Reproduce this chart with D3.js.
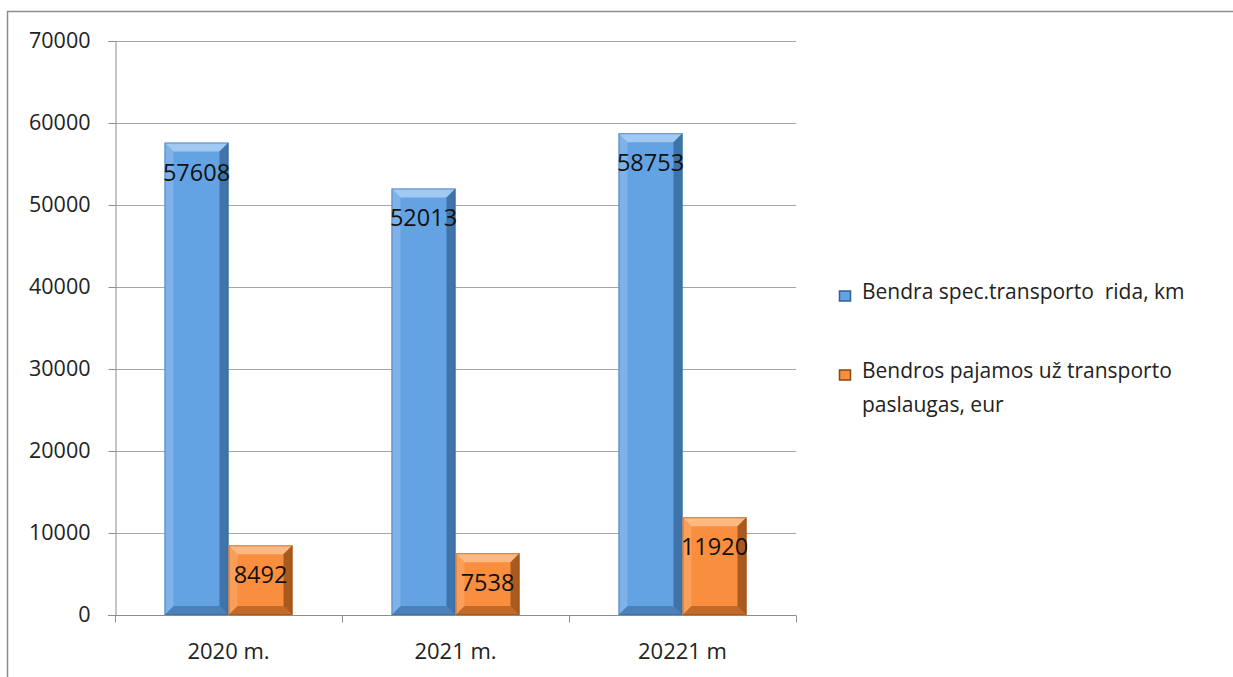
<!DOCTYPE html>
<html>
<head>
<meta charset="utf-8">
<script src="https://cdn.jsdelivr.net/npm/d3@7"></script>
<style>
  body { margin: 0; background: #fff; }
  text { font-family: "Open Sans", "Noto Sans", sans-serif; }
</style>
</head>
<body>
<script>
var width = 1233;
var height = 677;

var margin = {top: 41, left: 115, right: 437, bottom: 62};

var categories = ["2020 m.", "2021 m.", "20221 m"];
var seriesNames = ["Bendra spec.transporto  rida, km", "Bendros pajamos už transporto paslaugas, eur"];
var ridaValues = [57608, 52013, 58753];
var pajamosValues = [8492, 7538, 11920];
var yTicks = [0, 10000, 20000, 30000, 40000, 50000, 60000, 70000];

var colors = ["#64a3e3", "#f98e3e"];
var light = ["#acd0f5", "#fdc18e"];
var dark = ["#2f5f92", "#8a4513"];

var svg = d3.select("body")
  .append("svg")
  .attr("width", width)
  .attr("height", height);

// outer frame
svg.append("rect")
  .attr("x", 7.5).attr("y", 11.5)
  .attr("width", width + 10).attr("height", height + 10)
  .attr("fill", "none")
  .attr("stroke", "#8c8c8c")
  .attr("stroke-width", 1.5);

var xScale = d3.scaleBand()
  .domain(categories)
  .range([margin.left, width - margin.right])
  .paddingInner(0.436)
  .paddingOuter(0.218);

var xSub = d3.scaleBand()
  .domain([0, 1])
  .range([0, xScale.bandwidth()]);

var yScale = d3.scaleLinear()
  .domain([0, 70000])
  .range([height - margin.bottom, margin.top]);

// gridlines
svg.append("g")
  .selectAll("line")
  .data(yTicks.slice(1))
  .enter()
  .append("line")
  .attr("x1", margin.left)
  .attr("x2", width - margin.right)
  .attr("y1", function(d) { return Math.round(yScale(d)) + 0.5; })
  .attr("y2", function(d) { return Math.round(yScale(d)) + 0.5; })
  .attr("stroke", "#a6a6a6")
  .attr("stroke-width", 1);

var yAxis = svg.append("g")
  .attr("transform", "translate(" + (margin.left + 0.5) + ",0)")
  .call(d3.axisLeft(yScale).tickValues(yTicks).tickSize(7).tickPadding(18).tickFormat(d3.format("d")));

yAxis.select(".domain").attr("stroke", "#8c8c8c");
yAxis.selectAll(".tick line").attr("stroke", "#8c8c8c");
yAxis.selectAll(".tick text")
  .attr("font-size", 21.5)
  .attr("fill", "#222")
  .attr("font-family", "'Open Sans', sans-serif");

var xAxis = svg.append("g")
  .attr("transform", "translate(0," + (yScale(0) + 0.5) + ")");

xAxis.append("line")
  .attr("x1", margin.left - 7)
  .attr("x2", width - margin.right)
  .attr("stroke", "#8c8c8c");

var step = xScale.step();
var boundaries = d3.range(categories.length + 1).map(function(i) { return margin.left + i * step; });
xAxis.selectAll(".bt")
  .data(boundaries)
  .enter()
  .append("line")
  .attr("x1", function(d) { return Math.round(d) + 0.5; })
  .attr("x2", function(d) { return Math.round(d) + 0.5; })
  .attr("y1", 0).attr("y2", 7)
  .attr("stroke", "#8c8c8c");

xAxis.selectAll(".cl")
  .data(categories)
  .enter()
  .append("text")
  .attr("x", function(d) { return xScale(d) + xScale.bandwidth() / 2; })
  .attr("y", 43)
  .attr("text-anchor", "middle")
  .attr("font-size", 22)
  .attr("fill", "#222")
  .text(function(d) { return d; });

// bars with bevel
var bars = [];
categories.forEach(function(c, i) {
  bars.push({cat: c, s: 0, v: ridaValues[i]});
  bars.push({cat: c, s: 1, v: pajamosValues[i]});
});

var bev = 9;

var groups = svg.append("g")
  .selectAll("g")
  .data(bars)
  .enter()
  .append("g");

groups.each(function(d) {
  var g = d3.select(this);
  var x0 = xScale(d.cat) + xSub(d.s);
  var w = xSub.bandwidth();
  var y0 = yScale(d.v);
  var y1 = yScale(0);
  var x1 = x0 + w;
  g.append("rect")
    .attr("x", x0).attr("y", y0)
    .attr("width", w).attr("height", y1 - y0)
    .attr("fill", colors[d.s]);
  // top bevel
  g.append("polygon")
    .attr("points", [[x0, y0], [x1, y0], [x1 - bev, y0 + bev], [x0 + bev, y0 + bev]].join(" "))
    .attr("fill", light[d.s]).attr("opacity", 0.85);
  // left bevel
  g.append("polygon")
    .attr("points", [[x0, y0], [x0 + bev, y0 + bev], [x0 + bev, y1 - bev], [x0, y1]].join(" "))
    .attr("fill", light[d.s]).attr("opacity", 0.35);
  // right bevel
  g.append("polygon")
    .attr("points", [[x1, y0], [x1, y1], [x1 - bev, y1 - bev], [x1 - bev, y0 + bev]].join(" "))
    .attr("fill", dark[d.s]).attr("opacity", 0.7);
  // bottom bevel
  g.append("polygon")
    .attr("points", [[x0, y1], [x0 + bev, y1 - bev], [x1 - bev, y1 - bev], [x1, y1]].join(" "))
    .attr("fill", dark[d.s]).attr("opacity", 0.5);
  g.append("rect")
    .attr("x", x0 + 0.5).attr("y", y0 + 0.5)
    .attr("width", w - 1).attr("height", y1 - y0 - 1)
    .attr("fill", "none")
    .attr("stroke", dark[d.s]).attr("stroke-opacity", 0.5);
  g.append("text")
    .attr("x", x0 + w / 2)
    .attr("y", y0 + 38)
    .attr("text-anchor", "middle")
    .attr("font-size", 23.5)
    .attr("fill", "#111")
    .text(d.v);
});

// legend
var legend = svg.append("g");
var legendY = [299, 378];
seriesNames.forEach(function(name, i) {
  var lx = 839.5, ly = legendY[i];
  legend.append("rect")
    .attr("x", lx).attr("y", ly - 8)
    .attr("width", 11).attr("height", 10)
    .attr("fill", colors[i])
    .attr("stroke", dark[i]).attr("stroke-width", 1.5);
  var t = legend.append("text")
    .attr("x", 862)
    .attr("y", ly)
    .attr("font-size", 21)
    .attr("fill", "#222");
  if (i === 0) {
    t.text(name).attr("xml:space", "preserve");
  } else {
    t.append("tspan").attr("x", 862).text("Bendros pajamos už transporto");
    t.append("tspan").attr("x", 862).attr("dy", 34).text("paslaugas, eur");
  }
});
</script>
</body>
</html>
